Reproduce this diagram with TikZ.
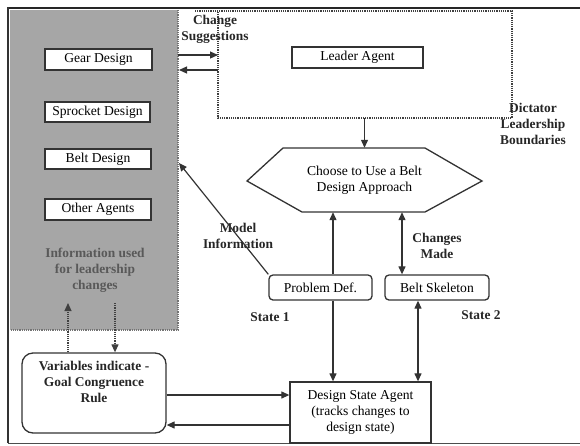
\documentclass[tikz,border=0pt]{standalone}
\usepackage{fontspec}
\setmainfont{Liberation Serif}
\usetikzlibrary{arrows.meta,calc}
\begin{document}
\begin{tikzpicture}[x=1pt,y=-1pt,
  agent/.style={draw=black!80, line width=1.3pt, fill=white, inner sep=0pt, align=center,
     font=\fontsize{13.6}{16}\selectfont},
  lbl/.style={font=\bfseries\fontsize{13.4}{16}\selectfont, align=center, text=black!85, inner sep=0pt},
  arr/.style={draw=black!80, line width=1.2pt, -{Triangle[length=8pt,width=7pt]}},
  darr/.style={draw=black!80, line width=1.2pt, {Triangle[length=8pt,width=7pt]}-{Triangle[length=8pt,width=7pt]}},
  dotline/.style={draw=black!75, line width=1.2pt, densely dotted},
  dotarr/.style={dotline, -{Triangle[length=8pt,width=7pt]}}
]
\useasboundingbox (0,0) rectangle (580,445);
% gray region
\fill[black!35] (10,10) rectangle (178,330);
\draw[dotline, draw=black!55] (178,10) -- (178,330) -- (10,330);
% frame
\draw[black!85, line width=2.2pt] (8,8) -- (580,8);
\draw[black!80, line width=1.6pt] (8,7) -- (8,443);
\draw[black!70, line width=1pt] (8,443) -- (580,443);
% dictator boundary
\draw[dotline] (195,11) -- (512,11) -- (512,118) -- (218,118) -- (218,11);
% agents in gray region
\node[agent, minimum width=107pt, minimum height=21pt] (gear) at (98.5,59.5) {Gear Design};
\node[agent, minimum width=105pt, minimum height=20pt] (sprocket) at (97.5,112) {Sprocket Design};
\node[agent, minimum width=106pt, minimum height=20pt] (belt) at (98,159) {Belt Design};
\node[agent, minimum width=106pt, minimum height=21pt] (other) at (98,209.5) {Other Agents};
\node[lbl, text=black!65] (info) at (95,270) {Information used\\for leadership\\changes};
% leader
\node[agent, minimum width=131pt, minimum height=21pt] (leader) at (357.5,57.5) {Leader Agent};
% hexagon
\node[inner sep=0pt, minimum width=235pt, minimum height=64pt, align=center,
      font=\fontsize{13.6}{16}\selectfont] (hex) at (364.5,180) {Choose to Use a Belt\\Design Approach};
\draw[draw=black!80, line width=1.3pt] (283,148) -- (425,148) -- (482,181) -- (425,212) -- (302,212) -- (247,181) -- cycle;
% state boxes
\node[agent, rounded corners=4pt, minimum width=103pt, minimum height=25pt] (prob) at (320.5,287.5) {Problem Def.};
\node[agent, rounded corners=4pt, minimum width=104pt, minimum height=25pt] (skel) at (437,287.5) {Belt Skeleton};
% design state agent
\node[agent, minimum width=141pt, minimum height=61pt] (dsa) at (360.5,412.5) {Design State Agent\\(tracks changes to\\design state)};
% variables
\node[agent, rounded corners=11pt, minimum width=144pt, minimum height=80pt,
      font=\bfseries\fontsize{13.4}{16}\selectfont, text=black!85] (vars) at (94,393)
      {Variables indicate -\\Goal Congruence\\Rule\\[6pt]};
% labels
\node[lbl] (chg) at (215,29.5) {Change\\Suggestions};
\node[lbl] (dict) at (533,124) {Dictator\\Leadership\\Boundaries};
\node[lbl] (model) at (238,236) {Model\\Information};
\node[lbl] (made) at (437,245.5) {Changes\\Made};
\node[lbl] (s1) at (270,317) {State 1};
\node[lbl] (s2) at (481,315) {State 2};
% coordinates
\coordinate (g1) at (178,55);
\coordinate (b1) at (218,55);
\coordinate (g2) at (179,70);
\coordinate (b2) at (218,70);
\coordinate (bd) at (364.5,118);
\coordinate (mi) at (179,163);
\coordinate (xa) at (333,0);
\coordinate (xb) at (402,0);
\coordinate (xc) at (418,0);
\coordinate (ya) at (0,395);
\coordinate (yb) at (0,425);
\coordinate (up) at (68,303);
\coordinate (dn) at (115,303);
% connectors
\draw[arr] (g1) -- (b1);
\draw[arr] (b2) -- (g2);
\draw[arr] (bd) -- (hex.north);
\draw[arr] (prob.north west) -- (mi);
\draw[arr] (prob.north -| xa) -- (hex.south -| xa);
\draw[arr] (prob.south -| xa) -- (dsa.north -| xa);
\draw[darr] (hex.south -| xb) -- (skel.north -| xb);
\draw[darr] (skel.south -| xc) -- (dsa.north -| xc);
\draw[arr] (vars.east |- ya) -- (dsa.west |- ya);
\draw[arr] (dsa.west |- yb) -- (vars.east |- yb);
\draw[dotarr] (vars.north -| up) -- (up);
\draw[dotarr] (dn) -- (vars.north -| dn);
\end{tikzpicture}
\end{document}
